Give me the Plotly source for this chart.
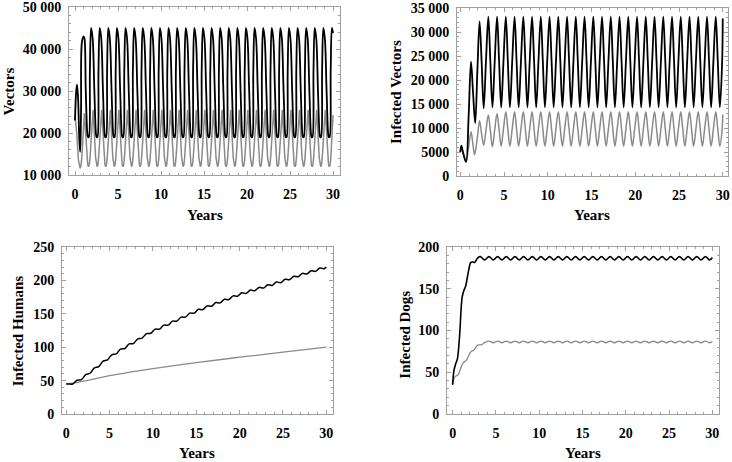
import plotly.graph_objects as go

W, H = 732, 462

# ---------------- data ----------------
# years axis
year_ticks = [0, 5, 10, 15, 20, 25, 30]
T_END = 30

# Panel 1 : Vectors  (black = scenario A, grey = scenario B)
vec_blk_t0 = [0, 0.12, 0.23, 0.35, 0.5, 0.6, 0.7, 0.81, 1.0, 1.1]
vec_blk_v0 = [23000, 29500, 31500, 28500, 18500, 15500, 25000, 41800, 43000, 42500]
vec_blk_cyc_off = [0.25, 0.45, 0.52, 0.6, 0.73, 0.87, 1.05]
vec_blk_cyc_val = [30000, 19500, 19000, 19000, 35000, 45000, 42500]
vec_blk_tail = 43800

vec_gry_t0 = [0, 0.2, 0.4, 0.5, 0.6, 0.7, 0.8, 1.08]
vec_gry_v0 = [24000, 20000, 13500, 12000, 11600, 12300, 14500, 24700]
vec_gry_cyc_off = [0.4, 0.48, 0.57, 0.66, 0.74, 1.1]
vec_gry_cyc_val = [14000, 12400, 12000, 12400, 14000, 25500]
vec_gry_tail = 24300

# Panel 2 : Infected vectors
ivec_blk_t0 = [0, 0.12, 0.3, 0.65, 0.95, 1.22, 1.45, 1.7, 1.95, 2.2, 2.43, 2.67]
ivec_blk_v0 = [5000, 6300, 5000, 2950, 12500, 23800, 17500, 11000, 22000, 32200, 24000, 14100]
ivec_blk_cyc_off = [-0.07, 0.2, 0.43, 0.67]
ivec_blk_cyc_val = [23800, 33200, 24000, 14300]
ivec_blk_tail = 32800

ivec_gry_t0 = [0, 0.12, 0.3, 0.65, 0.95, 1.22, 1.45, 1.63, 1.95, 2.2, 2.45, 2.67,
               2.93, 3.2, 3.43, 3.67, 3.93, 4.2, 4.43, 4.67]
ivec_gry_v0 = [5000, 6300, 5000, 2950, 6000, 9200, 6500, 4400, 8000, 11500, 8500, 6400,
               9500, 12700, 9500, 6100, 9600, 13000, 9700, 6200]
ivec_gry_cyc_off = [-0.07, 0.2, 0.43, 0.67]
ivec_gry_cyc_val = [9800, 13400, 9800, 6200]
ivec_gry_tail = 12800

# Panel 3 : Infected humans
hum_blk_t = [0, 0.25, 0.75, 1.25, 1.75, 2.25, 2.75, 3.25, 3.75, 4.25, 4.75, 5.25, 5.75,
             6.25, 6.75, 7.25, 7.75, 8.25, 8.75, 9.25, 9.75, 10.25, 10.75, 11.25, 11.75,
             12.25, 12.75, 13.25, 13.75, 14.25, 14.75, 15.25, 15.75, 16.25, 16.75,
             17.25, 17.75, 18.25, 18.75, 19.25, 19.75, 20.25, 20.75, 21.25, 21.75,
             22.25, 22.75, 23.25, 23.75, 24.25, 24.75, 25.25, 25.75, 26.25, 26.75,
             27.25, 27.75, 28.25, 28.75, 29.25, 29.75, 30]
hum_blk_v = [45, 45, 45, 50.5, 51.5, 59, 61, 69, 71, 79, 81, 88.6, 89.9,
             97, 98, 104.9, 105.6, 112.5, 113.5, 120.3, 120.8, 127, 127, 133, 133,
             139, 139, 145, 145, 151, 151, 156.8, 156.3, 161.8, 161.3,
             166.8, 166.3, 171.8, 171.3, 176.8, 176.3, 181.5, 180.5, 185.5, 184.5,
             189.5, 188.5, 193.5, 192.5, 197.5, 196.5, 201.6, 200.9, 206.1, 205.4,
             210.5, 209.5, 214.5, 213.5, 218.5, 217.5, 220]
hum_gry_t = [0, 1, 2.5, 5, 7.5, 10, 15, 20, 25, 30]
hum_gry_v = [45, 46.5, 50.5, 57.5, 63, 68, 77, 85, 92.5, 100]

# Panel 4 : Infected dogs
dog_blk_t0 = [0, 0.15, 0.35, 0.55, 0.8, 1.1, 1.3, 1.5, 1.85, 2.1, 2.35, 2.55, 2.9]
dog_blk_v0 = [35, 52, 60, 66, 93, 140, 148, 153, 172, 181.5, 182, 181.5, 187]
dog_blk_cyc_off = [0.2, 0.7]
dog_blk_cyc_val = [188.5, 184.5]
dog_blk_tail = 187.5

dog_gry_t0 = [0, 0.25, 0.6, 0.9, 1.2, 1.6, 2.1, 2.45, 2.9, 3.3, 3.7]
dog_gry_v0 = [35, 44.5, 46.5, 54, 61, 64.5, 74.5, 76.5, 82.5, 82.8, 85.5]
dog_gry_cyc_off = [0.2, 0.7]
dog_gry_cyc_val = [87.3, 85.3]
dog_gry_tail = 86.8

# tick labels
vec_ticks = [10000, 20000, 30000, 40000, 50000]
vec_ticktext = ["10 000", "20 000", "30 000", "40 000", "50 000"]
ivec_ticks = [0, 5000, 10000, 15000, 20000, 25000, 30000, 35000]
ivec_ticktext = ["0", "5000", "10 000", "15 000", "20 000", "25 000", "30 000", "35 000"]
hum_ticks = [0, 50, 100, 150, 200, 250]
dog_ticks = [0, 50, 100, 150, 200]


def periodic(t0, v0, offs, vals, n_from, tail_v):
    t, v = list(t0), list(v0)
    for n in range(n_from, T_END + 1):
        for o, val in zip(offs, vals):
            if n + o < T_END - 0.02:
                t.append(n + o)
                v.append(val)
    t.append(T_END)
    v.append(tail_v)
    return t, v


BLACK = "#000000"
GREY = "#8a8a8a"
FONT = "Liberation Serif"

fig = go.Figure()


def add(t, v, ax, color, width, shape="spline"):
    fig.add_trace(go.Scatter(
        x=t, y=v, mode="lines", xaxis="x" + ax, yaxis="y" + ax,
        line=dict(color=color, width=width, shape=shape,
                  smoothing=1.0 if shape == "spline" else None),
        showlegend=False, hoverinfo="skip"))


# Panel 1
t, v = periodic(vec_gry_t0, vec_gry_v0, vec_gry_cyc_off, vec_gry_cyc_val, 1, vec_gry_tail)
add(t, v, "", GREY, 1.5, "linear")
t, v = periodic(vec_blk_t0, vec_blk_v0, vec_blk_cyc_off, vec_blk_cyc_val, 1, vec_blk_tail)
add(t, v, "", BLACK, 1.8)
# Panel 2
t, v = periodic(ivec_gry_t0, ivec_gry_v0, ivec_gry_cyc_off, ivec_gry_cyc_val, 5, ivec_gry_tail)
add(t, v, "2", GREY, 1.5)
t, v = periodic(ivec_blk_t0, ivec_blk_v0, ivec_blk_cyc_off, ivec_blk_cyc_val, 3, ivec_blk_tail)
add(t, v, "2", BLACK, 1.8)
# Panel 3
add(hum_gry_t, hum_gry_v, "3", GREY, 1.3)
add(hum_blk_t, hum_blk_v, "3", BLACK, 1.5)
# Panel 4
t, v = periodic(dog_gry_t0, dog_gry_v0, dog_gry_cyc_off, dog_gry_cyc_val, 4, dog_gry_tail)
add(t, v, "4", GREY, 1.3)
t, v = periodic(dog_blk_t0, dog_blk_v0, dog_blk_cyc_off, dog_blk_cyc_val, 3, dog_blk_tail)
add(t, v, "4", BLACK, 1.6)

FRAME = "#a0a0a0"
tickfont = dict(family=FONT, size=14, color="black", weight="bold")


def xaxis(left, right, rng, anchor):
    return dict(domain=[left / W, right / W], range=rng, anchor=anchor,
                tickvals=year_ticks, ticktext=[str(y) for y in year_ticks],
                automargin=False, ticklabeloverflow="allow",
                showgrid=False, zeroline=False, showline=True, mirror="allticks",
                linecolor=FRAME, linewidth=1, ticks="inside", ticklen=4,
                tickcolor=FRAME, tickfont=tickfont, ticklabelstandoff=6,
                minor=dict(ticks="inside", ticklen=2, tickcolor=FRAME, dtick=1))


def yaxis(top, bottom, rng, anchor, vals, text, minor_dt):
    return dict(domain=[1 - bottom / H, 1 - top / H], range=rng, anchor=anchor,
                tickvals=vals, ticktext=text,
                automargin=False, ticklabeloverflow="allow",
                showgrid=False, zeroline=False, showline=True, mirror="allticks",
                linecolor=FRAME, linewidth=1, ticks="inside", ticklen=4,
                tickcolor=FRAME, tickfont=tickfont, ticklabelstandoff=4,
                minor=dict(ticks="inside", ticklen=2, tickcolor=FRAME, dtick=minor_dt))


fig.update_layout(
    width=W, height=H, autosize=False,
    margin=dict(l=0, r=0, t=0, b=0, autoexpand=False),
    paper_bgcolor="white", plot_bgcolor="white",
    xaxis=xaxis(69, 340, [-0.70, 30.81], "y"),
    yaxis=yaxis(7, 175, [10000, 50000], "x", vec_ticks, vec_ticktext, 2000),
    xaxis2=xaxis(457, 728, [-0.38, 30.6], "y2"),
    yaxis2=yaxis(8, 176, [0, 35000], "x2", ivec_ticks, ivec_ticktext, 1000),
    xaxis3=xaxis(62, 333, [-0.49, 30.77], "y3"),
    yaxis3=yaxis(247, 414, [0, 250], "x3", hum_ticks, [str(v) for v in hum_ticks], 10),
    xaxis4=xaxis(447, 719, [-0.65, 30.77], "y4"),
    yaxis4=yaxis(247, 414, [0, 200], "x4", dog_ticks, [str(v) for v in dog_ticks], 10),
)

titles = [
    ("Years", 204.7, 215, 0), ("Years", 591.7, 215, 0),
    ("Years", 196.7, 452.7, 0), ("Years", 583, 452.7, 0),
    ("Vectors", 8.7, 91.7, -90), ("Infected Vectors", 395.3, 91.7, -90),
    ("Infected Humans", 18.3, 331, -90), ("Infected Dogs", 404.7, 335, -90),
]
for text, px, py, ang in titles:
    fig.add_annotation(text=text, x=px / W, y=1 - py / H, xref="paper", yref="paper",
                       xanchor="center", yanchor="middle", showarrow=False,
                       textangle=ang,
                       font=dict(family=FONT, size=15, color="black", weight="bold"))

fig.write_html("out.html", config={"displayModeBar": False},
               post_script="document.body.style.margin='0';document.body.style.overflow='hidden';")
